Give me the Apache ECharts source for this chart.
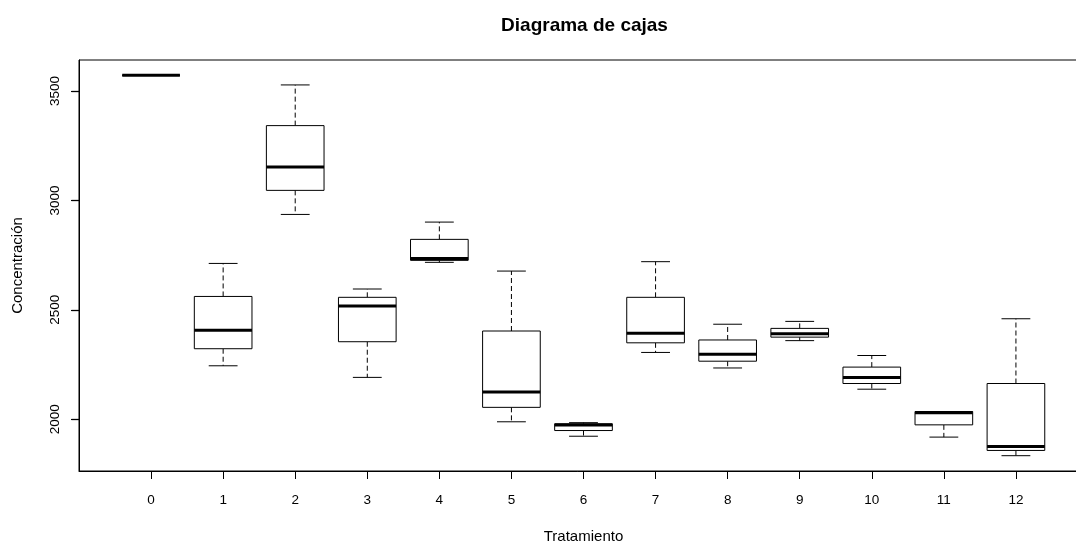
<!DOCTYPE html>
<html>
<head>
<meta charset="utf-8">
<script src="https://cdn.jsdelivr.net/npm/echarts@6/dist/echarts.min.js"></script>
<style>
html,body{margin:0;padding:0;background:#fff;}
#chart{width:1076px;height:544px;}
</style>
</head>
<body>
<div id="chart"></div>
<script>
// ---- data ----
const categories = ['0','1','2','3','4','5','6','7','8','9','10','11','12'];
const mins    = [3572, 2244, 2936, 2191, 2717, 1988, 1922, 2305, 2234, 2359, 2137, 1918, 1833];
const q1s     = [3572, 2322, 3046, 2354, 2726, 2054, 1948, 2349, 2265, 2375, 2163, 1974, 1857];
const medians = [3572, 2407, 3153, 2517, 2735, 2124, 1973, 2393, 2297, 2391, 2191, 2029, 1875];
const q3s     = [3572, 2561, 3342, 2557, 2822, 2403, 1979, 2557, 2362, 2415, 2238, 2035, 2163];
const maxs    = [3572, 2712, 3528, 2595, 2901, 2677, 1984, 2720, 2434, 2447, 2291, 2035, 2459];
const yTicks  = [2000, 2500, 3000, 3500];

const titleText = 'Diagrama de cajas';
const xName = 'Tratamiento';
const yName = 'Concentración';

const X_MIN = -1, X_MAX = 13;
const seriesData = categories.map((c, i) => [i, mins[i], q1s[i], medians[i], q3s[i], maxs[i]]);
const xTickValues = categories.map((c, i) => i);
const yTickData = yTicks.map(v => [X_MIN, v]);

const FONT = '"Liberation Sans", Arial, sans-serif';
const TICK_LEN = 8;

const chart = echarts.init(document.getElementById('chart'), null, {renderer: 'canvas'});

function renderBox(params, api) {
  const x = api.value(0);
  const lo = api.value(1), q1 = api.value(2), med = api.value(3), q3 = api.value(4), hi = api.value(5);
  const cx = api.coord([x, med])[0];
  const y = v => api.coord([x, v])[1];
  const boxW = api.size([0.8, 0])[0];
  const capW = boxW / 2;
  const black = '#000';
  const children = [];
  children.push({type: 'line', shape: {x1: cx, y1: y(q3), x2: cx, y2: y(hi)},
    style: {stroke: black, lineWidth: 1, lineDash: [5, 3]}});
  children.push({type: 'line', shape: {x1: cx, y1: y(q1), x2: cx, y2: y(lo)},
    style: {stroke: black, lineWidth: 1, lineDash: [5, 3]}});
  children.push({type: 'line', shape: {x1: cx - capW / 2, y1: y(hi), x2: cx + capW / 2, y2: y(hi)},
    style: {stroke: black, lineWidth: 1}});
  children.push({type: 'line', shape: {x1: cx - capW / 2, y1: y(lo), x2: cx + capW / 2, y2: y(lo)},
    style: {stroke: black, lineWidth: 1}});
  children.push({type: 'rect', shape: {x: cx - boxW / 2, y: y(q3), width: boxW, height: y(q1) - y(q3)},
    style: {fill: '#fff', stroke: black, lineWidth: 1}});
  children.push({type: 'line', shape: {x1: cx - boxW / 2, y1: y(med), x2: cx + boxW / 2, y2: y(med)},
    style: {stroke: black, lineWidth: 3}});
  return {type: 'group', children: children};
}

// y-axis tick marks on the left frame edge, positioned through the axis scales
function renderYTick(params, api) {
  const p = api.coord([api.value(0), api.value(1)]);
  const py = Math.round(p[1]) + 0.5;
  const x0 = Math.round(p[0]) + 0.5;
  return {type: 'polyline', shape: {points: [[x0 - TICK_LEN, py], [x0, py]]},
    style: {stroke: '#000', lineWidth: 1.3, fill: null}};
}

const option = {
  backgroundColor: '#fff',
  animation: false,
  title: {
    text: titleText,
    left: 579.5,
    textAlign: 'center',
    top: 11,
    textStyle: {fontFamily: FONT, fontWeight: 'bold', fontSize: 19, color: '#000'}
  },
  grid: {
    left: 79, top: 60, bottom: 73, right: -12,
    show: true, borderColor: '#000', borderWidth: 1, backgroundColor: 'transparent',
    containLabel: false,
    outerBoundsMode: 'none'
  },
  xAxis: {
    type: 'value',
    position: 'bottom',
    min: X_MIN, max: X_MAX,
    name: xName,
    nameLocation: 'middle',
    nameGap: 58,
    nameTextStyle: {fontFamily: FONT, fontSize: 15, color: '#000'},
    axisLine: {show: true, onZero: false, lineStyle: {color: '#000', width: 1}},
    axisTick: {show: true, inside: false, length: TICK_LEN, customValues: xTickValues, lineStyle: {color: '#000', width: 1}},
    axisLabel: {
      customValues: xTickValues,
      margin: 22,
      fontFamily: FONT, fontSize: 13.5, color: '#000',
      formatter: v => categories[v]
    },
    splitLine: {show: false}
  },
  yAxis: {
    type: 'value',
    position: 'left',
    min: 1763, max: 3642,
    name: yName,
    nameLocation: 'middle',
    nameGap: 54,
    nameRotate: 90,
    nameTextStyle: {fontFamily: FONT, fontSize: 15, color: '#000'},
    axisLine: {show: true, onZero: false, lineStyle: {color: '#000', width: 1}},
    axisTick: {show: true, inside: false, length: TICK_LEN, customValues: yTicks, lineStyle: {color: '#000', width: 1}},
    axisLabel: {
      customValues: yTicks,
      rotate: 90,
      margin: 17,
      fontFamily: FONT, fontSize: 13.5, color: '#000',
      formatter: v => String(v)
    },
    splitLine: {show: false}
  },
  series: [{
    type: 'custom',
    renderItem: renderBox,
    data: seriesData,
    encode: {x: 0, y: [1, 2, 3, 4, 5]},
    clip: false,
    z: 2
  }, {
    type: 'custom',
    renderItem: renderYTick,
    data: yTickData,
    encode: {x: 0, y: 1},
    clip: false,
    silent: true,
    z: 3
  }]
};

chart.setOption(option);
</script>
</body>
</html>
